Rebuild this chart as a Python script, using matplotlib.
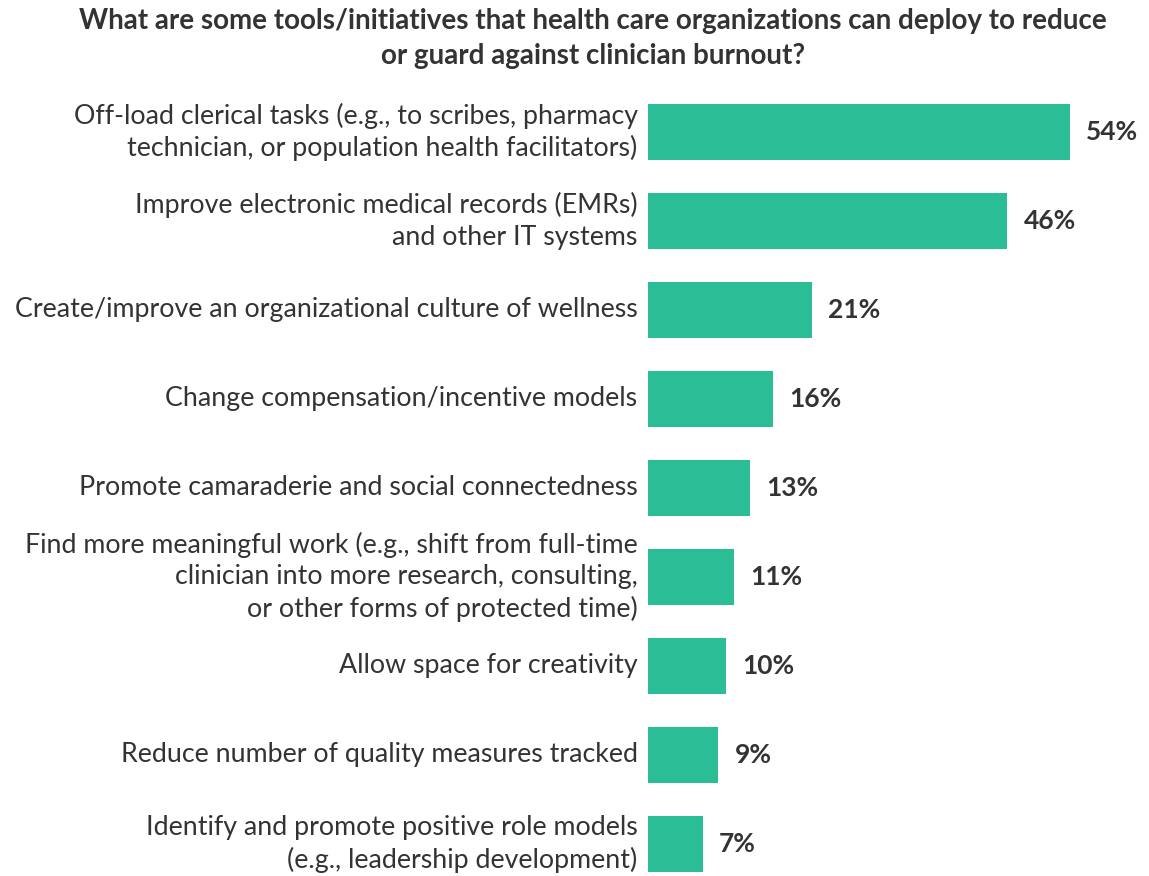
import matplotlib
matplotlib.use("Agg")
import matplotlib.pyplot as plt

categories = [
    "Off-load clerical tasks (e.g., to scribes, pharmacy\ntechnician, or population health facilitators)",
    "Improve electronic medical records (EMRs)\nand other IT systems",
    "Create/improve an organizational culture of wellness",
    "Change compensation/incentive models",
    "Promote camaraderie and social connectedness",
    "Find more meaningful work (e.g., shift from full-time\nclinician into more research, consulting,\nor other forms of protected time)",
    "Allow space for creativity",
    "Reduce number of quality measures tracked",
    "Identify and promote positive role models\n(e.g., leadership development)",
]
values = [54, 46, 21, 16, 13, 11, 10, 9, 7]
title = ("What are some tools/initiatives that health care organizations can deploy to reduce\n"
         "or guard against clinician burnout?")

BAR = "#2bbd96"
TEXT = "#333333"
plt.rcParams["font.family"] = ["Lato", "DejaVu Sans"]

fig = plt.figure(figsize=(11.49, 8.76), dpi=100)
ax = fig.add_axes([648 / 1149, 0.0, 1 - 648 / 1149, 0.9001])

ys = list(range(len(values)))
ax.barh(ys, values, height=0.62, color=BAR)
ax.set_xlim(0, (1149 - 648) / 7.81)
ax.set_ylim(8.36, -0.5)
ax.axis("off")

for y, v, lab in zip(ys, values, categories):
    ax.text(v + 2.1, y, f"{v}%", va="center", ha="left", fontsize=19,
            fontweight="bold", color=TEXT)
    ax.annotate(lab, xy=(0, y), xytext=(-7.5, 0), textcoords="offset points",
                va="center", ha="right", fontsize=19.3, color=TEXT,
                linespacing=1.32)

fig.text(0.516, 0.956, title, ha="center", va="center", fontsize=20,
         fontweight="bold", color=TEXT, linespacing=1.42)

fig.savefig("out.png", dpi=100)
